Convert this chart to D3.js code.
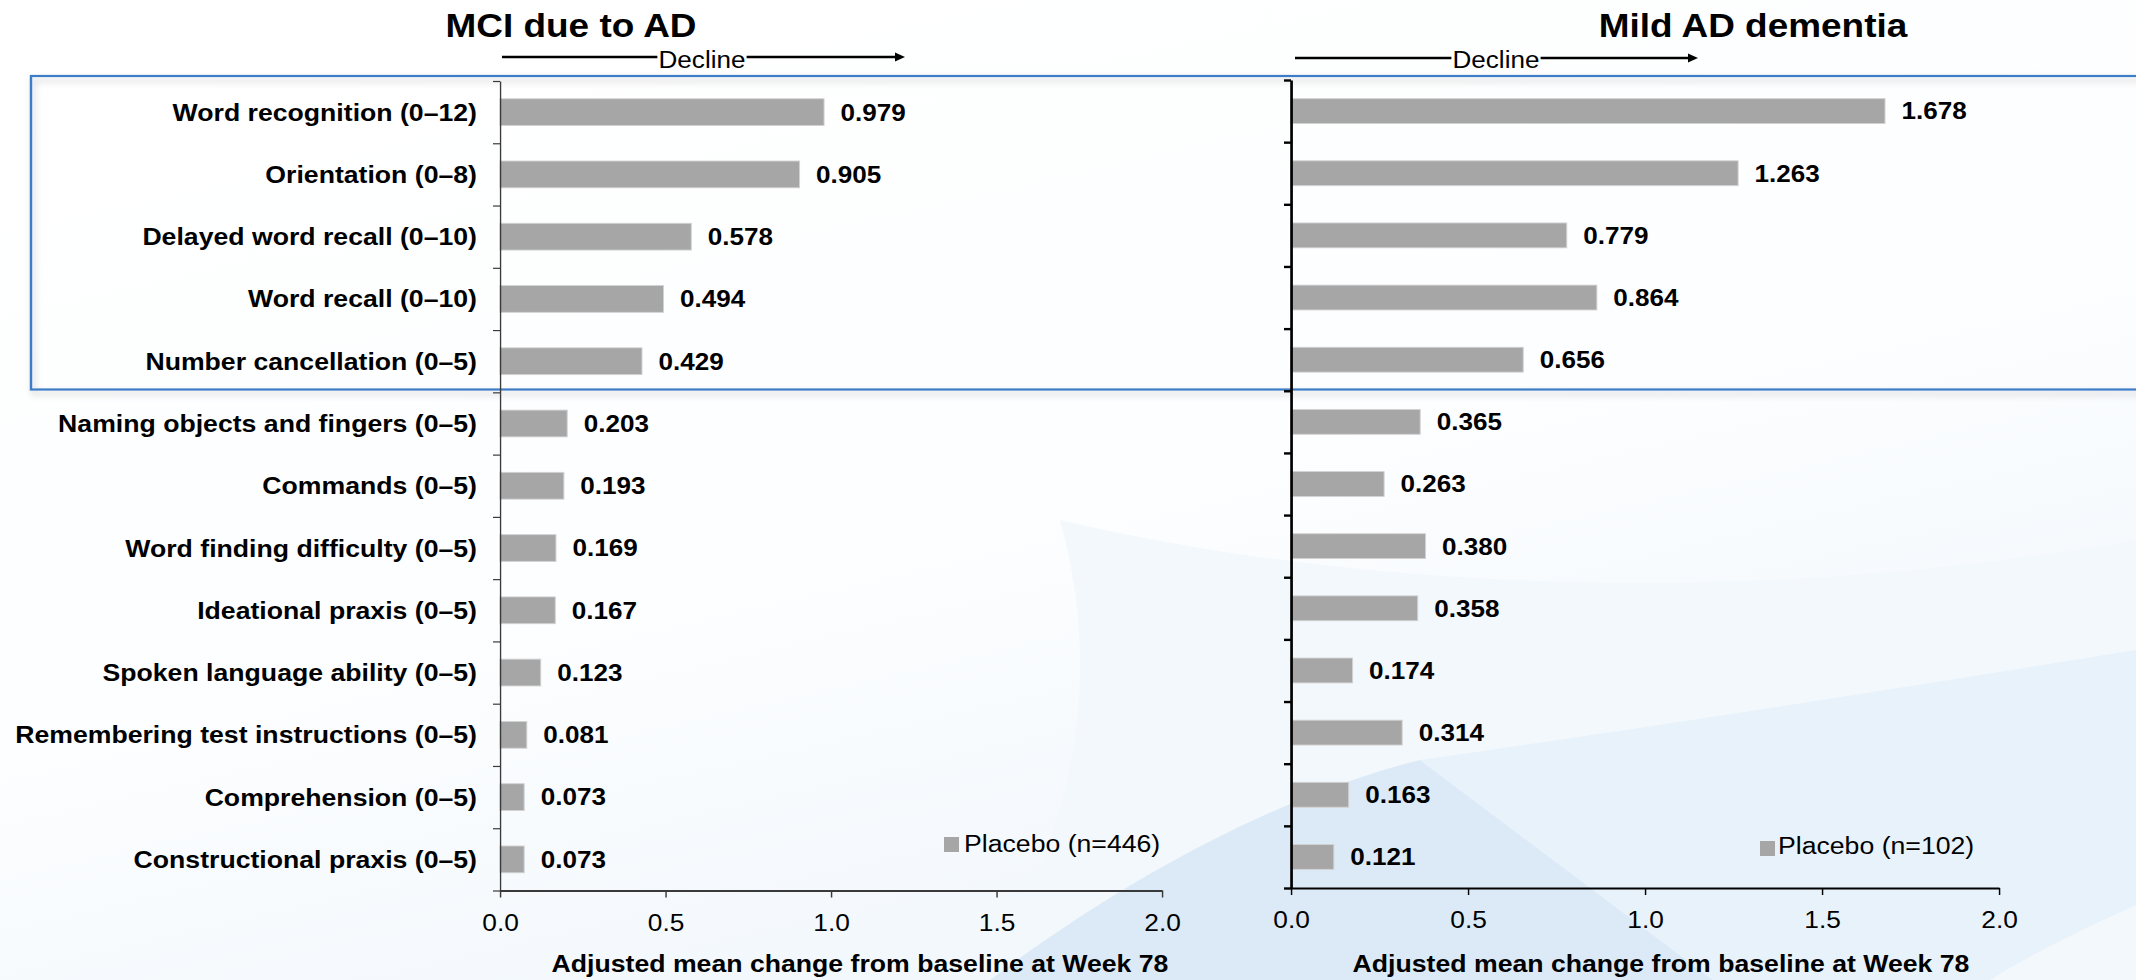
<!DOCTYPE html>
<html>
<head>
<meta charset="utf-8">
<script src="https://cdn.jsdelivr.net/npm/d3@7"></script>
<style>
  html, body { margin: 0; padding: 0; background: #ffffff; overflow: hidden; }
  svg { display: block; font-family: "Liberation Sans", Arial, Helvetica, sans-serif; }
</style>
</head>
<body>
<svg id="chart"></svg>
<script>
// ADAS-Cog13 item scores: adjusted mean change from baseline at week 78 (placebo)
const categories = [
  "Word recognition (0–12)",
  "Orientation (0–8)",
  "Delayed word recall (0–10)",
  "Word recall (0–10)",
  "Number cancellation (0–5)",
  "Naming objects and fingers (0–5)",
  "Commands (0–5)",
  "Word finding difficulty (0–5)",
  "Ideational praxis (0–5)",
  "Spoken language ability (0–5)",
  "Remembering test instructions (0–5)",
  "Comprehension (0–5)",
  "Constructional praxis (0–5)"
];
const mciValues  = [0.979, 0.905, 0.578, 0.494, 0.429, 0.203, 0.193, 0.169, 0.167, 0.123, 0.081, 0.073, 0.073];
const mildValues = [1.678, 1.263, 0.779, 0.864, 0.656, 0.365, 0.263, 0.380, 0.358, 0.174, 0.314, 0.163, 0.121];
const xTicks = [0.0, 0.5, 1.0, 1.5, 2.0];
const panelTitles = ["MCI due to AD", "Mild AD dementia"];
const legendLabels = ["Placebo (n=446)", "Placebo (n=102)"];
const axisTitle = "Adjusted mean change from baseline at Week 78";
const arrowLabel = "Decline";

// Canvas: the artwork is laid out on a slightly narrower grid and stretched horizontally
const W = 2136, H = 980, SX = 1.12;
const VW = W / SX;
const sx = px => px / SX;            // screen-x -> drawing units

const BAR_FILL = "#a6a6a6";
const FONT_LABEL = 23.8;

const svg = d3.select("#chart")
  .attr("width", W).attr("height", H)
  .attr("viewBox", `0 0 ${VW} ${H}`)
  .attr("preserveAspectRatio", "none");

const defs = svg.append("defs");

// ---------- background ----------
const bg = defs.append("linearGradient").attr("id", "bgGrad")
  .attr("x1", "0").attr("y1", "0").attr("x2", "0.5").attr("y2", "1");
bg.append("stop").attr("offset", "0").attr("stop-color", "#ffffff");
bg.append("stop").attr("offset", "0.6").attr("stop-color", "#fdfeff");
bg.append("stop").attr("offset", "1").attr("stop-color", "#f1f7fc");
svg.append("rect").attr("width", VW).attr("height", H).attr("fill", "url(#bgGrad)");

const backdrop = svg.append("g").attr("class", "backdrop");
// faint sweep behind the lower right
backdrop.append("path")
  .attr("d", `M${sx(1060)},520 C${sx(1110)},700 ${sx(1060)},860 ${sx(980)},980 L${sx(2136)},980 L${sx(2136)},540 C${sx(1800)},600 ${sx(1400)},600 ${sx(1060)},520 Z`)
  .attr("fill", "#f2f8fc");
// darker wedge
backdrop.append("path")
  .attr("d", `M${sx(990)},980 C${sx(1150)},860 ${sx(1300)},790 ${sx(1420)},760 L${sx(1713)},980 Z`)
  .attr("fill", "#dbeaf6");
// lighter band on the right
backdrop.append("path")
  .attr("d", `M${sx(1420)},760 C${sx(1700)},720 ${sx(1950)},680 ${sx(2136)},650 L${sx(2136)},905 C${sx(2080)},930 ${sx(2030)},955 ${sx(1990)},980 L${sx(1713)},980 Z`)
  .attr("fill", "#e8f2fa");

// ---------- highlight box round the first five items ----------
const shadow = defs.append("filter").attr("id", "boxShadow")
  .attr("x", "-5%").attr("y", "-20%").attr("width", "110%").attr("height", "140%");
shadow.append("feDropShadow")
  .attr("dx", 2).attr("dy", 4).attr("stdDeviation", 3.5)
  .attr("flood-color", "#000").attr("flood-opacity", 0.22);

// ---------- panels ----------
const panels = [
  {
    values: mciValues, title: panelTitles[0], legend: legendLabels[0],
    x0: 500, x1: 1162, top: 81, bottom: 890.5, barFrac: 0.43,
    axisColor: "#3a3a3a", yAxisWidth: 1.2, xAxisWidth: 1.8,
    titleX: 571, arrow: { x0: 502, x1: 905, y: 57, textX: 702 },
    legendPos: { x: 944, y: 837, textX: 964, base: 852 },
    axisTitleX: 860, showLabels: true
  },
  {
    values: mildValues, title: panelTitles[1], legend: legendLabels[1],
    x0: 1291, x1: 1999, top: 80, bottom: 888, barFrac: 0.40,
    axisColor: "#000000", yAxisWidth: 2.4, xAxisWidth: 2.0,
    titleX: 1753, arrow: { x0: 1295, x1: 1698, y: 58, textX: 1496 },
    legendPos: { x: 1760, y: 841, textX: 1778, base: 854 },
    axisTitleX: 1661, showLabels: false
  }
];

// box goes behind the plots
const boxTop = 76, boxBottom = 389.5;
svg.append("rect")
  .attr("x", sx(31)).attr("y", boxTop)
  .attr("width", sx(2160) - sx(31)).attr("height", boxBottom - boxTop)
  .attr("fill", "none").attr("stroke", "#3c7bc6").attr("stroke-width", 2.2)
  .attr("filter", "url(#boxShadow)");

panels.forEach(p => {
  const g = svg.append("g");
  const n = categories.length;

  const x = d3.scaleLinear().domain([0, 2]).range([sx(p.x0), sx(p.x1)]);
  const y = d3.scaleBand().domain(categories).range([p.top, p.bottom])
    .paddingInner(1 - p.barFrac).paddingOuter((1 - p.barFrac) / 2);
  const yEdge = d3.scaleLinear().domain([0, n]).range([p.top, p.bottom]);

  // bars
  g.append("g").selectAll("rect")
    .data(categories)
    .join("rect")
    .attr("x", x(0))
    .attr("y", d => y(d))
    .attr("width", (d, i) => x(p.values[i]) - x(0))
    .attr("height", y.bandwidth())
    .attr("fill", BAR_FILL)
    .attr("stroke", "#d2d2d2").attr("stroke-width", 0.9);

  // value labels
  g.append("g").selectAll("text")
    .data(categories)
    .join("text")
    .attr("x", (d, i) => x(p.values[i]) + sx(16.5))
    .attr("y", d => y(d) + y.bandwidth() / 2)
    .attr("dy", "0.36em")
    .attr("font-size", 23.3).attr("font-weight", "bold").attr("fill", "#000")
    .text((d, i) => p.values[i].toFixed(3));

  // category labels (shared, left panel only)
  if (p.showLabels) {
    g.append("g").selectAll("text")
      .data(categories)
      .join("text")
      .attr("x", sx(477))
      .attr("y", d => y(d) + y.bandwidth() / 2)
      .attr("dy", "0.36em")
      .attr("text-anchor", "end")
      .attr("font-size", FONT_LABEL).attr("font-weight", "bold").attr("fill", "#000")
      .text(d => d);
  }

  // x axis
  const xAxis = g.append("g")
    .attr("transform", `translate(0,${p.bottom})`)
    .call(d3.axisBottom(x).tickValues(xTicks).tickFormat(d3.format(".1f"))
      .tickSize(7).tickSizeOuter(0).tickPadding(16.5));
  xAxis.select(".domain").attr("stroke", p.axisColor).attr("stroke-width", p.xAxisWidth);
  xAxis.selectAll(".tick line").attr("stroke", p.axisColor).attr("stroke-width", 1.3);
  xAxis.selectAll(".tick text")
    .attr("font-size", 23.5).attr("font-family", null).attr("fill", "#000");

  // y axis with ticks between categories
  const yAxis = g.append("g")
    .attr("transform", `translate(${x(0)},0)`)
    .call(d3.axisLeft(yEdge).tickValues(d3.range(n + 1)).tickFormat("")
      .tickSize(sx(7)).tickSizeOuter(0));
  yAxis.select(".domain").attr("stroke", p.axisColor).attr("stroke-width", p.yAxisWidth);
  yAxis.selectAll(".tick line").attr("stroke", p.axisColor).attr("stroke-width", p.yAxisWidth);

  // panel title
  svg.append("text")
    .attr("x", sx(p.titleX)).attr("y", 37.5)
    .attr("text-anchor", "middle")
    .attr("font-size", 33).attr("font-weight", "bold").attr("fill", "#000")
    .text(p.title);

  // "Decline" arrow
  const a = p.arrow;
  const lbl = svg.append("text")
    .attr("x", sx(a.textX)).attr("y", 68)
    .attr("text-anchor", "middle")
    .attr("font-size", 23.3).attr("fill", "#000")
    .text(arrowLabel);
  const bb = lbl.node().getBBox();
  const arrowG = svg.append("g").attr("stroke", "#000").attr("stroke-width", 2.4);
  arrowG.append("line").attr("x1", sx(a.x0)).attr("x2", bb.x - 1).attr("y1", a.y).attr("y2", a.y);
  arrowG.append("line").attr("x1", bb.x + bb.width + 1).attr("x2", sx(a.x1 - 8)).attr("y1", a.y).attr("y2", a.y);
  svg.append("path")
    .attr("d", `M${sx(a.x1)},${a.y} L${sx(a.x1 - 10)},${a.y - 4.5} L${sx(a.x1 - 10)},${a.y + 4.5} Z`)
    .attr("fill", "#000");

  // legend
  const L = p.legendPos;
  svg.append("rect")
    .attr("x", sx(L.x)).attr("y", L.y)
    .attr("width", sx(15)).attr("height", 15)
    .attr("fill", BAR_FILL);
  svg.append("text")
    .attr("x", sx(L.textX)).attr("y", L.base)
    .attr("font-size", FONT_LABEL).attr("fill", "#000")
    .text(p.legend);

  // x-axis title
  svg.append("text")
    .attr("x", sx(p.axisTitleX)).attr("y", 972)
    .attr("text-anchor", "middle")
    .attr("font-size", FONT_LABEL).attr("font-weight", "bold").attr("fill", "#000")
    .text(axisTitle);
});
</script>
</body>
</html>
